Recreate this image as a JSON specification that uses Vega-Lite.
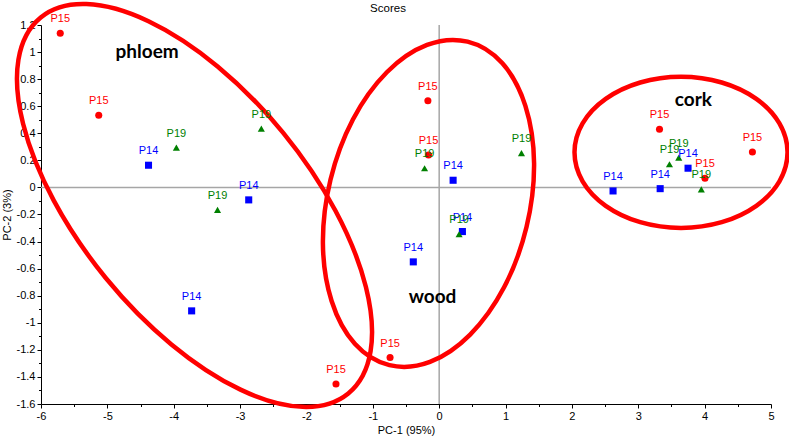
{
  "$schema": "https://vega.github.io/schema/vega-lite/v6.json",
  "width": 730,
  "height": 379,
  "autosize": {"type": "none"},
  "padding": {"left": 41, "top": 25, "right": 18, "bottom": 32},
  "title": {"text": "Scores", "fontSize": 11.5, "fontWeight": "normal", "font": "Liberation Sans", "color": "black", "anchor": "middle", "offset": -20, "dx": -18},
  "datasets": {
    "points": [
      {"series": "P14", "x": -4.38, "y": 0.164},
      {"series": "P14", "x": -2.87, "y": -0.092},
      {"series": "P14", "x": -3.73, "y": -0.912},
      {"series": "P14", "x": 0.21, "y": 0.053},
      {"series": "P14", "x": 0.35, "y": -0.326},
      {"series": "P14", "x": -0.39, "y": -0.55},
      {"series": "P14", "x": 3.75, "y": 0.142},
      {"series": "P14", "x": 2.62, "y": -0.026},
      {"series": "P14", "x": 3.33, "y": -0.009},
      {"series": "P15", "x": -5.71, "y": 1.139},
      {"series": "P15", "x": -5.13, "y": 0.533},
      {"series": "P15", "x": -0.17, "y": 0.641},
      {"series": "P15", "x": -0.16, "y": 0.24},
      {"series": "P15", "x": -0.74, "y": -1.257},
      {"series": "P15", "x": -1.555, "y": -1.452},
      {"series": "P15", "x": 3.32, "y": 0.43},
      {"series": "P15", "x": 4.72, "y": 0.262},
      {"series": "P15", "x": 4.005, "y": 0.068},
      {"series": "P19", "x": -3.96, "y": 0.294},
      {"series": "P19", "x": -2.68, "y": 0.434},
      {"series": "P19", "x": -3.34, "y": -0.166},
      {"series": "P19", "x": -0.22, "y": 0.142},
      {"series": "P19", "x": 1.24, "y": 0.253},
      {"series": "P19", "x": 0.3, "y": -0.346},
      {"series": "P19", "x": 3.47, "y": 0.171},
      {"series": "P19", "x": 3.61, "y": 0.22},
      {"series": "P19", "x": 3.95, "y": -0.014}
    ],
    "ellipses": [
      {"group": "phloem", "i": 0, "x": -1.37, "y": -1.522},
      {"group": "phloem", "i": 1, "x": -2.058, "y": -1.621},
      {"group": "phloem", "i": 2, "x": -2.994, "y": -1.494},
      {"group": "phloem", "i": 3, "x": -4.035, "y": -1.16},
      {"group": "phloem", "i": 4, "x": -5.024, "y": -0.669},
      {"group": "phloem", "i": 5, "x": -5.809, "y": -0.096},
      {"group": "phloem", "i": 6, "x": -6.27, "y": 0.47},
      {"group": "phloem", "i": 7, "x": -6.34, "y": 0.945},
      {"group": "phloem", "i": 8, "x": -6.004, "y": 1.256},
      {"group": "phloem", "i": 9, "x": -5.316, "y": 1.355},
      {"group": "phloem", "i": 10, "x": -4.38, "y": 1.228},
      {"group": "phloem", "i": 11, "x": -3.339, "y": 0.894},
      {"group": "phloem", "i": 12, "x": -2.35, "y": 0.403},
      {"group": "phloem", "i": 13, "x": -1.565, "y": -0.17},
      {"group": "phloem", "i": 14, "x": -1.104, "y": -0.736},
      {"group": "phloem", "i": 15, "x": -1.034, "y": -1.211},
      {"group": "wood", "i": 0, "x": -0.75, "y": -1.313},
      {"group": "wood", "i": 1, "x": -0.139, "y": -1.289},
      {"group": "wood", "i": 2, "x": 0.467, "y": -1.087},
      {"group": "wood", "i": 3, "x": 0.978, "y": -0.738},
      {"group": "wood", "i": 4, "x": 1.316, "y": -0.293},
      {"group": "wood", "i": 5, "x": 1.43, "y": 0.178},
      {"group": "wood", "i": 6, "x": 1.299, "y": 0.603},
      {"group": "wood", "i": 7, "x": 0.949, "y": 0.919},
      {"group": "wood", "i": 8, "x": 0.428, "y": 1.077},
      {"group": "wood", "i": 9, "x": -0.183, "y": 1.053},
      {"group": "wood", "i": 10, "x": -0.789, "y": 0.851},
      {"group": "wood", "i": 11, "x": -1.3, "y": 0.502},
      {"group": "wood", "i": 12, "x": -1.638, "y": 0.057},
      {"group": "wood", "i": 13, "x": -1.752, "y": -0.414},
      {"group": "wood", "i": 14, "x": -1.621, "y": -0.839},
      {"group": "wood", "i": 15, "x": -1.271, "y": -1.155},
      {"group": "cork", "i": 0, "x": 5.249, "y": 0.259},
      {"group": "cork", "i": 1, "x": 5.127, "y": 0.473},
      {"group": "cork", "i": 2, "x": 4.779, "y": 0.654},
      {"group": "cork", "i": 3, "x": 4.258, "y": 0.775},
      {"group": "cork", "i": 4, "x": 3.644, "y": 0.817},
      {"group": "cork", "i": 5, "x": 3.03, "y": 0.775},
      {"group": "cork", "i": 6, "x": 2.509, "y": 0.654},
      {"group": "cork", "i": 7, "x": 2.161, "y": 0.473},
      {"group": "cork", "i": 8, "x": 2.039, "y": 0.259},
      {"group": "cork", "i": 9, "x": 2.161, "y": 0.045},
      {"group": "cork", "i": 10, "x": 2.509, "y": -0.136},
      {"group": "cork", "i": 11, "x": 3.03, "y": -0.257},
      {"group": "cork", "i": 12, "x": 3.644, "y": -0.299},
      {"group": "cork", "i": 13, "x": 4.258, "y": -0.257},
      {"group": "cork", "i": 14, "x": 4.779, "y": -0.136},
      {"group": "cork", "i": 15, "x": 5.127, "y": 0.045}
    ],
    "notes": [
      {"label": "phloem", "x": -4.4, "y": 1.0},
      {"label": "wood", "x": -0.1, "y": -0.811},
      {"label": "cork", "x": 3.83, "y": 0.646}
    ]
  },
  "layer": [
    {
      "data": {"values": [{}]},
      "mark": {"type": "rule", "color": "#a6a6a6", "strokeWidth": 1.5},
      "encoding": {
        "x": {
          "datum": 0, "type": "quantitative",
          "axis": {
            "orient": "bottom",
            "values": [-5.5, -4.5, -3.5, -2.5, -1.5, -0.5, 0.5, 1.5, 2.5, 3.5, 4.5],
            "labels": false, "domain": false, "title": null, "tickSize": 2.5
          }
        }
      }
    },
    {
      "data": {"values": [{}]},
      "mark": {"type": "rule", "color": "#a6a6a6", "strokeWidth": 1.5},
      "encoding": {
        "y": {
          "datum": 0, "type": "quantitative",
          "axis": {
            "orient": "left",
            "values": [-1.5, -1.3, -1.1, -0.9, -0.7, -0.5, -0.3, -0.1, 0.1, 0.3, 0.5, 0.7, 0.9, 1.1],
            "labels": false, "domain": false, "title": null, "tickSize": 2.5
          }
        }
      }
    },
    {
      "data": {"name": "ellipses"},
      "mark": {"type": "line", "interpolate": "cardinal-closed", "color": "#ff0000", "strokeWidth": 4.5},
      "encoding": {
        "x": {
          "field": "x", "type": "quantitative",
          "scale": {"domain": [-6, 5], "nice": false, "zero": false},
          "axis": {
            "orient": "bottom",
            "title": "PC-1 (95%)",
            "values": [-6, -5, -4, -3, -2, -1, 0, 1, 2, 3, 4, 5],
            "labelExpr": "'' + datum.value",
            "tickSize": 4,
            "labelOverlap": false,
            "labelFlush": false,
            "titlePadding": 3
          }
        },
        "y": {
          "field": "y", "type": "quantitative",
          "scale": {"domain": [-1.6, 1.2], "nice": false, "zero": false},
          "axis": {
            "orient": "left",
            "title": "PC-2 (3%)",
            "values": [-1.6, -1.4, -1.2, -1, -0.8, -0.6, -0.4, -0.2, 0, 0.2, 0.4, 0.6, 0.8, 1, 1.2],
            "labelExpr": "'' + datum.value",
            "tickSize": 4,
            "labelOverlap": false,
            "labelFlush": false,
            "titlePadding": 4
          }
        },
        "detail": {"field": "group"},
        "order": {"field": "i", "type": "quantitative"}
      }
    },
    {
      "data": {"name": "points"},
      "mark": {"type": "point", "filled": true, "opacity": 1, "size": 50},
      "encoding": {
        "x": {"field": "x", "type": "quantitative", "axis": null},
        "y": {"field": "y", "type": "quantitative", "axis": null},
        "color": {"field": "series", "type": "nominal", "scale": {"domain": ["P14", "P15", "P19"], "range": ["#0000ff", "#ff0000", "#008000"]}, "legend": null},
        "shape": {"field": "series", "type": "nominal", "scale": {"domain": ["P14", "P15", "P19"], "range": ["square", "circle", "triangle-up"]}, "legend": null}
      }
    },
    {
      "data": {"name": "points"},
      "mark": {"type": "text", "dy": -14, "fontSize": 11, "baseline": "middle", "align": "center"},
      "encoding": {
        "x": {"field": "x", "type": "quantitative", "axis": null},
        "y": {"field": "y", "type": "quantitative", "axis": null},
        "text": {"field": "series"},
        "color": {"field": "series", "type": "nominal"}
      }
    },
    {
      "data": {"name": "notes"},
      "mark": {"type": "text", "font": "Lato", "fontWeight": "bold", "fontSize": 19, "color": "black", "baseline": "middle", "align": "center"},
      "encoding": {
        "x": {"field": "x", "type": "quantitative", "axis": null},
        "y": {"field": "y", "type": "quantitative", "axis": null},
        "text": {"field": "label"}
      }
    }
  ],
  "resolve": {"axis": {"x": "independent", "y": "independent"}},
  "config": {
    "font": "Liberation Sans",
    "view": {"stroke": null},
    "axis": {
      "grid": false,
      "domainColor": "black",
      "domainWidth": 1,
      "tickColor": "black",
      "labelColor": "black",
      "labelFontSize": 11,
      "labelFont": "Liberation Sans",
      "titleFont": "Liberation Sans",
      "titleFontSize": 11,
      "titleFontWeight": "normal",
      "titleColor": "black",
      "labelPadding": 2
    }
  }
}
